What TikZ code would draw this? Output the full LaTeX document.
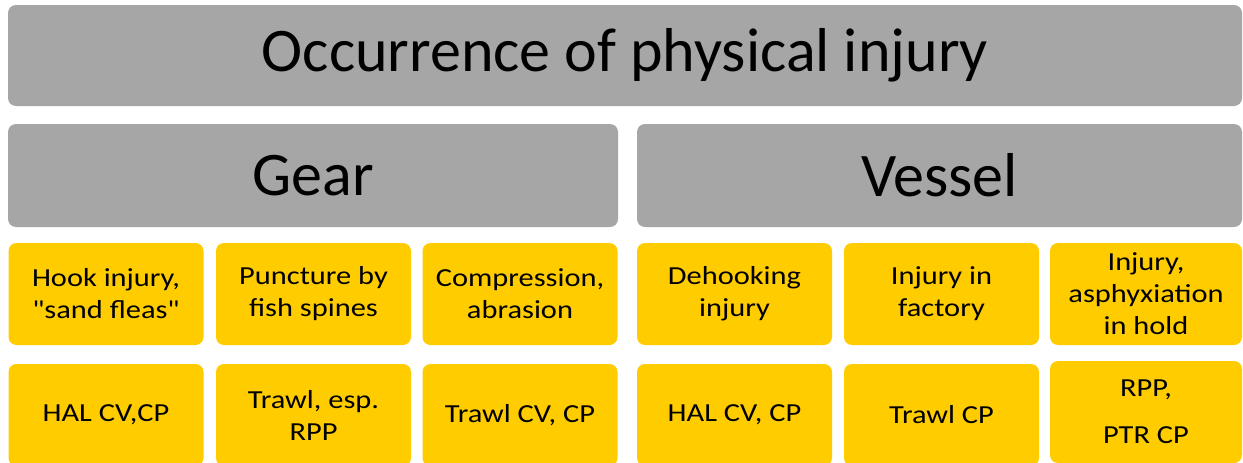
\documentclass[tikz,border=0pt]{standalone}
\usepackage{fontspec}
\setmainfont{Carlito}
\newfontfamily\boxfont[FakeStretch=1.17]{Carlito}
\definecolor{boxgray}{HTML}{A6A6A6}
\definecolor{boxgold}{HTML}{FFCC00}
\tikzset{
  base/.style={rounded corners=8pt, inner sep=0pt, align=center, text=black},
  graybox/.style={base, fill=boxgray, font=\fontsize{62}{74}\selectfont},
  goldbox/.style={base, fill=boxgold, minimum width=195pt, minimum height=102pt, font=\boxfont\fontsize{26}{32}\selectfont},
}
\begin{document}
\begin{tikzpicture}[x=1pt,y=-1pt]
\useasboundingbox (0,0) rectangle (1243,463);
\fill[white] (0,0) rectangle (1243,463);
\begin{scope}
\clip (0,0) rectangle (1243,463);
\node[graybox, minimum width=1234pt, minimum height=101pt] (top) at (625,55.5) {Occurrence of physical injury};
\node[graybox, minimum width=610pt, minimum height=103pt] (gear) at (313,175.5) {Gear};
\node[graybox, minimum width=605pt, minimum height=103pt] (vessel) at (939.5,175.5) {Vessel};
% row 1
\node[goldbox] (a1) at (106,294) {Hook injury,\\\symbol{34}sand fleas\symbol{34}};
\node[goldbox] (a2) at (313.5,294) {Puncture by\\fish spines};
\node[goldbox] (a3) at (520,294) {Compression,\\abrasion};
\node[goldbox] (a4) at (734.5,294) {Dehooking\\injury};
\node[goldbox] (a5) at (941.5,294) {Injury in\\factory};
\node[goldbox, minimum width=192pt] (a6) at (1146,294) {Injury,\\asphyxiation\\in hold};
% row 2
\node[goldbox] (b1) at (106,415) {HAL CV,CP};
\node[goldbox] (b2) at (313.5,415) {Trawl, esp.\\RPP};
\node[goldbox] (b3) at (520,415) {Trawl CV, CP};
\node[goldbox] (b4) at (734.5,415) {HAL CV, CP};
\node[goldbox] (b5) at (941.5,415) {Trawl CP};
\node[goldbox, minimum width=192pt] (b6) at (1146,412) {RPP,\\[15pt]PTR CP};
\end{scope}
\end{tikzpicture}
\end{document}
